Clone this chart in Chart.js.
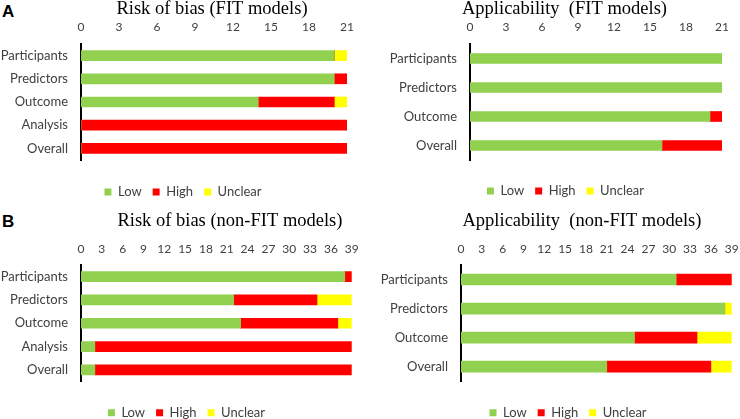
<!DOCTYPE html>
<html>
<head>
<meta charset="utf-8">
<script src="https://cdn.jsdelivr.net/npm/chart.js@4/dist/chart.umd.min.js"></script>
<style>
  html, body { margin: 0; width: 740px; height: 419px; overflow: hidden; background: #fff; }
  .panel { position: absolute; }
  .tag { position: absolute; font: bold 17px "Liberation Sans", Arial, sans-serif; line-height: 17px; color: #000; }
</style>
</head>
<body>
<div class="tag" style="left:2px;top:3px">A</div>
<div class="tag" style="left:2px;top:213px">B</div>
<div class="panel" style="left:0;top:0;width:370px;height:211px"><canvas id="fitRob"></canvas></div>
<div class="panel" style="left:385px;top:0;width:355px;height:211px"><canvas id="fitApp"></canvas></div>
<div class="panel" style="left:0;top:200px;width:370px;height:231px"><canvas id="nonFitRob"></canvas></div>
<div class="panel" style="left:378px;top:200px;width:372px;height:231px"><canvas id="nonFitApp"></canvas></div>
<script>
const robDomains = ["Participants", "Predictors", "Outcome", "Analysis", "Overall"];
const appDomains = ["Participants", "Predictors", "Outcome", "Overall"];

const fitTicks = [0, 3, 6, 9, 12, 15, 18, 21];
const nonFitTicks = [0, 3, 6, 9, 12, 15, 18, 21, 24, 27, 30, 33, 36, 39];

// number of models rated low / high / unclear per domain
const fitRobLow = [20, 20, 14, 0, 0];
const fitRobHigh = [0, 1, 6, 21, 21];
const fitRobUnclear = [1, 0, 1, 0, 0];

const fitAppLow = [21, 21, 20, 16];
const fitAppHigh = [0, 0, 1, 5];
const fitAppUnclear = [0, 0, 0, 0];

const nonFitRobLow = [38, 22, 23, 2, 2];
const nonFitRobHigh = [1, 12, 14, 37, 37];
const nonFitRobUnclear = [0, 5, 2, 0, 0];

const nonFitAppLow = [31, 38, 25, 21];
const nonFitAppHigh = [8, 0, 9, 15];
const nonFitAppUnclear = [0, 1, 5, 3];

const GREEN = "#92D050";
const RED = "#FF0000";
const YELLOW = "#FFFF00";
const TEXT = "#404040";
const SANS = "Lato, 'Open Sans', sans-serif";
const SERIF = "'Liberation Serif', 'Times New Roman', serif";

// nudges the title and legend sideways after layout
const boxShift = {
  id: "boxShift",
  afterLayout(chart, args, opts) {
    const move = (b, dx) => {
      if (b && dx) {
        b.left += dx;
        b.right += dx;
      }
    };
    move(chart.titleBlock, opts.titleDx);
    move(chart.legend, opts.legendDx);
  },
};

function initChart(id, { labels, low, high, unclear, ticks, title, box }) {
  new Chart(document.getElementById(id), {
    type: "bar",
    data: {
      labels,
      datasets: [
        { label: "Low", data: low, backgroundColor: GREEN },
        { label: "High", data: high, backgroundColor: RED },
        { label: "Unclear", data: unclear, backgroundColor: YELLOW },
      ],
    },
    options: {
      indexAxis: "y",
      responsive: true,
      maintainAspectRatio: false,
      animation: false,
      datasets: { bar: { barThickness: box.bar } },
      layout: { padding: { top: 0, left: 0, right: box.padRight, bottom: box.padBottom } },
      scales: {
        x: {
          position: "top",
          stacked: true,
          min: ticks[0],
          max: ticks[ticks.length - 1],
          grid: { display: false, drawTicks: false },
          border: { display: false },
          afterBuildTicks: (s) => { s.ticks = ticks.map((v) => ({ value: v })); },
          afterFit: (s) => { s.height = box.xHeight; },
          ticks: {
            padding: box.tickPad,
            color: TEXT,
            autoSkip: false,
            maxRotation: 0,
            font: { family: SANS, size: 12 },
          },
        },
        y: {
          stacked: true,
          grid: { display: false, drawTicks: false },
          border: { display: true, color: "#000", width: 2 },
          afterFit: (s) => { s.width = box.yWidth; },
          ticks: {
            padding: 13,
            color: TEXT,
            font: { family: SANS, size: 13 },
          },
        },
      },
      plugins: {
        title: {
          display: true,
          text: title,
          fullSize: false,
          color: "#000",
          padding: { top: box.titleTop, bottom: 0 },
          font: { family: SERIF, size: 18.5, weight: "normal", lineHeight: 1 },
        },
        subtitle: {
          display: true,
          text: "",
          position: "bottom",
          weight: 500,
          padding: { top: box.gap, bottom: 0 },
          font: { size: 1, lineHeight: 0 },
        },
        boxShift: { titleDx: box.titleDx, legendDx: box.legendDx },
        legend: {
          position: "bottom",
          labels: {
            boxWidth: 7,
            boxHeight: 7,
            padding: 11,
            color: TEXT,
            font: { family: SANS, size: 13 },
          },
        },
        tooltip: { enabled: false },
      },
    },
    plugins: [boxShift],
  });
}

initChart("fitRob", {
  labels: robDomains, low: fitRobLow, high: fitRobHigh, unclear: fitRobUnclear,
  ticks: fitTicks, title: "Risk of bias (FIT models)",
  box: { bar: 10, padRight: 23, padBottom: 2.5, gap: 14.5, xHeight: 25.5, tickPad: 9.5, yWidth: 81, titleTop: 0, titleDx: -2, legendDx: 9.5 },
});

initChart("fitApp", {
  labels: appDomains, low: fitAppLow, high: fitAppHigh, unclear: fitAppUnclear,
  ticks: fitTicks, title: "Applicability  (FIT models)",
  box: { bar: 10, padRight: 18, padBottom: 3.5, gap: 13.5, xHeight: 25.5, tickPad: 9.5, yWidth: 85, titleTop: 0, titleDx: -31.5, legendDx: 12 },
});

initChart("nonFitRob", {
  labels: robDomains, low: nonFitRobLow, high: nonFitRobHigh, unclear: nonFitRobUnclear,
  ticks: nonFitTicks, title: "Risk of bias (non-FIT models)",
  box: { bar: 10, padRight: 18.3, padBottom: 1.8, gap: 13.7, xHeight: 34.8, tickPad: 8.5, yWidth: 81, titleTop: 11.7, titleDx: 13.6, legendDx: 10.6 },
});

initChart("nonFitApp", {
  labels: appDomains, low: nonFitAppLow, high: nonFitAppHigh, unclear: nonFitAppUnclear,
  ticks: nonFitTicks, title: "Applicability  (non-FIT models)",
  box: { bar: 11, padRight: 18.3, padBottom: 1.8, gap: 14, xHeight: 34.8, tickPad: 8.5, yWidth: 83, titleTop: 11.7, titleDx: -14.4, legendDx: 13.2 },
});
</script>
</body>
</html>
